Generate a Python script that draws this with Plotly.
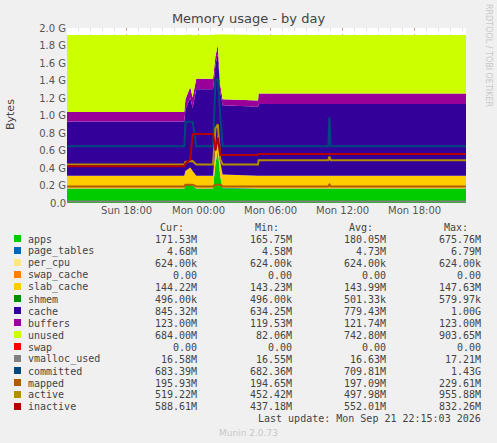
import plotly.graph_objects as go

# hours relative to Mon 00:00
hours = [-10.97, -1.2, -1.1, -0.7, -0.5, -0.2, 1.2, 1.4, 1.6, 1.8, 2.0, 4.95, 5.0, 10.8, 10.9, 11.0, 22.28]

# stacked series, in G
apps = [.16, .16, .20, .21, .20, .16, .16, .45, .60, .30, .17, .16, .16, .16, .16, .16, .16]
page_tables = [.005] * 17
per_cpu = [.0006] * 17
swap_cache = [0.0] * 17
slab_cache = [.145, .145, .16, .19, .16, .145, .145, .17, .17, .16, .15, .145, .145, .145, .145, .145, .145]
shmem = [.0005] * 17
cache = [.62, .62, .70, .80, .72, .99, .99, .95, .93, .80, .79, .79, .82, .82, .82, .82, .82]
buffers = [.11, .11, .12, .12, .12, .12, .12, .10, .10, .08, .07, .07, .12, .12, .12, .12, .12]
unused = [.88, .88, .73, .60, .71, .50, .50, .25, .12, .58, .74, .75, .67, .67, .67, .67, .67]
swap = [0.0] * 17

# line series, in G
vmalloc_used = [.0166] * 17
committed = [.65, .65, .93, .93, .93, .65, .65, 1.40, 1.42, 1.0, .65, .65, .65, .65, .98, .65, .65]
mapped = [.19, .19, .21, .21, .21, .19, .19, .21, .21, .21, .19, .19, .19, .19, .21, .19, .19]
active = [.44, .44, .47, .48, .48, .44, .44, .85, .90, .50, .44, .44, .49, .49, .53, .49, .49]
inactive = [.42, .42, .45, .50, .79, .79, .79, .60, .75, .55, .55, .55, .56, .56, .56, .56, .56]

names = ["apps", "page_tables", "per_cpu", "swap_cache", "slab_cache", "shmem", "cache",
         "buffers", "unused", "swap", "vmalloc_used", "committed", "mapped", "active", "inactive"]
colors = ["#00CC00", "#0066B3", "#FFE680", "#FF8000", "#FFCC00", "#008F00", "#330099",
          "#990099", "#CCFF00", "#FF0000", "#808080", "#00487D", "#B35A00", "#B38F00", "#B30000"]
cur = ["171.53M", "4.68M", "624.00k", "0.00", "144.22M", "496.00k", "845.32M", "123.00M",
       "684.00M", "0.00", "16.58M", "683.39M", "195.93M", "519.22M", "588.61M"]
mins = ["165.75M", "4.58M", "624.00k", "0.00", "143.23M", "496.00k", "634.25M", "119.53M",
        "82.06M", "0.00", "16.55M", "682.36M", "194.65M", "452.42M", "437.18M"]
avgs = ["180.05M", "4.73M", "624.00k", "0.00", "143.99M", "501.33k", "779.43M", "121.74M",
        "742.80M", "0.00", "16.63M", "709.81M", "197.09M", "497.98M", "552.01M"]
maxs = ["675.76M", "6.79M", "624.00k", "0.00", "147.63M", "579.97k", "1.00G", "123.00M",
        "903.65M", "0.00", "17.21M", "1.43G", "229.61M", "955.88M", "832.26M"]

stacked = [apps, page_tables, per_cpu, swap_cache, slab_cache, shmem, cache, buffers, unused, swap]
lines = [vmalloc_used, committed, mapped, active, inactive]

fig = go.Figure()
for i, s in enumerate(stacked):
    fig.add_trace(go.Scatter(x=hours, y=s, stackgroup="mem", mode="none",
                             fillcolor=colors[i], name=names[i]))
for j, s in enumerate(lines):
    fig.add_trace(go.Scatter(x=hours, y=s, mode="lines", line=dict(color=colors[10 + j], width=2),
                             name=names[10 + j]))

# plot area in pixels
L, R, T, B = 67, 466, 28, 203


def px(x, y):
    return (x - L) / (R - L), (B - y) / (B - T)


mono = dict(family="DejaVu Sans Mono", size=10, color="#444")
shapes = []
ann = []
for k, h in enumerate(["Cur:", "Min:", "Avg:", "Max:"]):
    ann.append(([186, 281, 375, 470][k], 227, h, "right"))
for i, n in enumerate(names):
    y = 239 + 12 * i
    ann.append((26, y, n, "left"))
    for v, xr in zip([cur[i], mins[i], avgs[i], maxs[i]], [199, 294, 388, 483]):
        ann.append((xr, y, v, "right"))
    x0, y0 = px(14, y - 4)
    x1, y1 = px(21, y + 3)
    shapes.append(dict(type="rect", xref="paper", yref="paper", x0=x0, x1=x1, y0=y0, y1=y1,
                       fillcolor=colors[i], line=dict(width=0)))
ann.append((483, 419, "Last update: Mon Sep 21 22:15:03 2026", "right"))
annotations = []
for x, y, t, xa in ann:
    ax, ay = px(x, y)
    annotations.append(dict(x=ax, y=ay, text=t, xanchor=xa, yanchor="middle", xref="paper",
                            yref="paper", showarrow=False, font=mono))
for x, y, t, ang, f in [(248, 433, "Munin 2.0.73", 0, dict(size=9, color="#c8c8c8")),
                        (488, 55, "RRDTOOL / TOBI OETIKER", 90, dict(size=8, color="#c8c8c8")),
                        (10, 115, "Bytes", -90, dict(size=11, color="#444"))]:
    ax, ay = px(x, y)
    annotations.append(dict(x=ax, y=ay, xref="paper", yref="paper", showarrow=False, text=t,
                            xanchor="center", yanchor="middle",
                            textangle=ang, font=dict(family="DejaVu Sans", **f)))

fig.update_layout(
    width=497, height=443, paper_bgcolor="#F0F0F0", plot_bgcolor="white",
    margin=dict(l=L, r=497 - R, t=T, b=443 - B), showlegend=False,
    title=dict(text="Memory usage - by day", x=0.5, y=1 - 18 / 443, xanchor="center",
               yanchor="middle", font=dict(family="DejaVu Sans", size=13, color="#444")),
    annotations=annotations, shapes=shapes,
    xaxis=dict(range=[-10.97, 22.28], tickvals=[-6, 0, 6, 12, 18],
               ticktext=["Sun 18:00", "Mon 00:00", "Mon 06:00", "Mon 12:00", "Mon 18:00"],
               showgrid=True, gridcolor="rgba(230,110,110,0.6)", griddash="dot", gridwidth=1,
               minor=dict(dtick=1, tick0=0, showgrid=True, gridcolor="rgba(200,200,200,0.6)",
                          griddash="dot"),
               tickfont=dict(family="DejaVu Sans", size=10, color="#555"), zeroline=False,
               ticks=""),
    yaxis=dict(range=[0, 2.0], tickvals=[0, .2, .4, .6, .8, 1.0, 1.2, 1.4, 1.6, 1.8, 2.0],
               ticktext=["0.0", "0.2 G", "0.4 G", "0.6 G", "0.8 G", "1.0 G", "1.2 G", "1.4 G",
                         "1.6 G", "1.8 G", "2.0 G"],
               showgrid=True, gridcolor="rgba(230,110,110,0.6)", griddash="dot",
               minor=dict(dtick=0.1, showgrid=True, gridcolor="rgba(200,200,200,0.6)",
                          griddash="dot"),
               tickfont=dict(family="DejaVu Sans", size=10, color="#555"), zeroline=False,
               ticks=""),
)
fig.write_html("out.html", post_script="document.body.style.margin='0';",
               config={"displayModeBar": False})
